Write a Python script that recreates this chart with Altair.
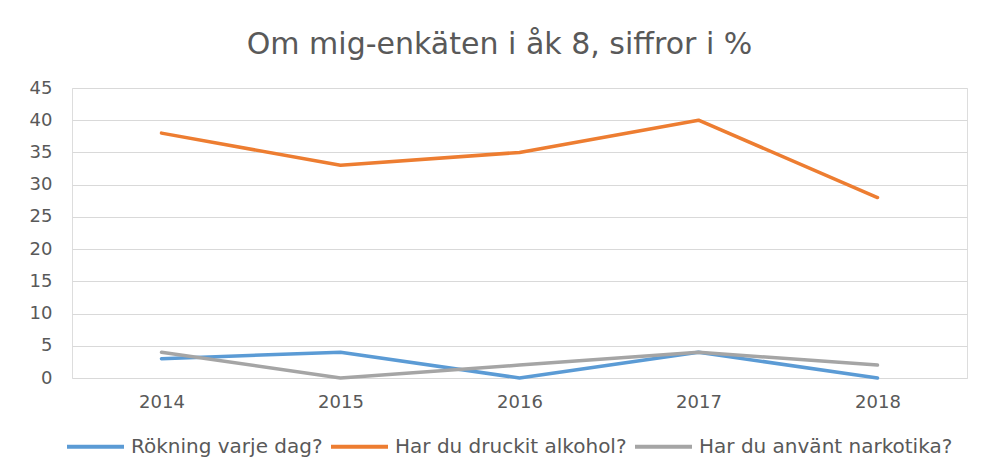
import altair as alt
import pandas as pd

years = ["2014", "2015", "2016", "2017", "2018"]
series_names = ["Rökning varje dag?", "Har du druckit alkohol?", "Har du använt narkotika?"]
rokning = [3, 4, 0, 4, 0]
alkohol = [38, 33, 35, 40, 28]
narkotika = [4, 0, 2, 4, 2]
colors = ["#5B9BD5", "#ED7D31", "#A5A5A5"]

rows = []
for name, vals in zip(series_names, [rokning, alkohol, narkotika]):
    for y, v in zip(years, vals):
        rows.append({"year": y, "value": v, "series": name})
df = pd.DataFrame(rows)

FONT = "DejaVu Sans"
GRAY = "#595959"

chart = alt.Chart(df).mark_line(strokeWidth=3.5, strokeCap="round", strokeJoin="round").encode(
    x=alt.X("year:O", sort=years, title=None,
            scale=alt.Scale(type="point", padding=0.5),
            axis=alt.Axis(labelAngle=0, domain=False, ticks=False, labelPadding=15,
                          labelFontSize=18, labelColor=GRAY, labelFont=FONT)),
    y=alt.Y("value:Q", title=None,
            scale=alt.Scale(domain=[0, 45], nice=False),
            axis=alt.Axis(values=list(range(0, 50, 5)), domain=False, ticks=False,
                          labelPadding=20, labelFontSize=18, labelColor=GRAY, labelFont=FONT,
                          gridColor="#D9D9D9", gridWidth=1)),
    color=alt.Color("series:N", sort=series_names,
                    scale=alt.Scale(domain=series_names, range=colors),
                    legend=alt.Legend(title=None, orient="none", direction="horizontal",
                                      legendX=-7, legendY=328,
                                      symbolType="stroke", symbolSize=3249, symbolStrokeWidth=4,
                                      labelFontSize=20, labelColor=GRAY, labelFont=FONT,
                                      labelLimit=400, labelOffset=5, columnPadding=0)),
).properties(
    width=895, height=290,
    title=alt.TitleParams("Om mig-enkäten i åk 8, siffror i %", fontSize=30, font=FONT,
                          fontWeight="normal", color=GRAY, anchor="middle", offset=19, dx=-20),
    autosize=alt.AutoSizeParams(type="none"),
    padding={"left": 64, "top": 80, "right": 10, "bottom": 89},
).configure_view(stroke=None).configure(background="white")

chart.save("out.html", embed_options={"renderer": "svg", "actions": False})
